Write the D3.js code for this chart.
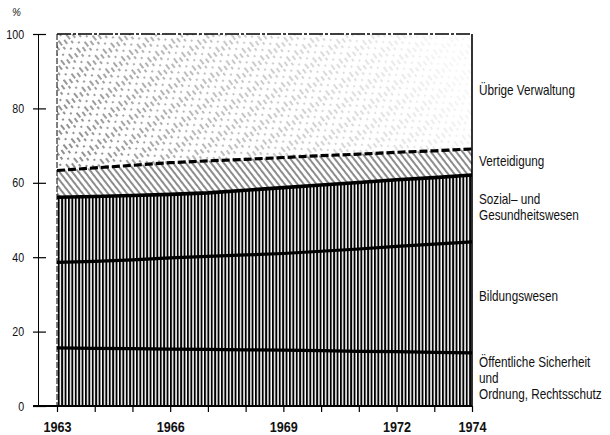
<!DOCTYPE html>
<html>
<head>
<meta charset="utf-8">
<script src="https://cdn.jsdelivr.net/npm/d3@7/dist/d3.min.js"></script>
<style>
  html, body { margin: 0; padding: 0; background: #fff; }
  svg { display: block; }
  text { font-family: "Liberation Sans", Arial, sans-serif; fill: #111; }
</style>
</head>
<body>
<svg id="chart" width="610" height="435"></svg>
<script>
// ---- data (shares in % of total expenditure) ----
const years = [1963,1964,1965,1966,1967,1968,1969,1970,1971,1972,1973,1974];
const oeffentlicheSicherheit = [15.6,15.5,15.4,15.3,15.2,15.1,15.0,14.9,14.7,14.6,14.4,14.3];
const bildungswesen          = [23.0,23.4,23.9,24.5,25.0,25.5,26.0,26.7,27.5,28.3,29.1,29.8];
const sozialGesundheit       = [17.5,17.4,17.3,17.1,17.1,17.4,17.7,17.8,17.9,17.9,17.9,18.0];
const verteidigung           = [7.2,7.7,8.1,8.5,8.6,8.3,8.1,7.9,7.6,7.4,7.2,7.0];
const uebrigeVerwaltung      = [36.7,36.0,35.3,34.6,34.1,33.7,33.2,32.7,32.3,31.8,31.4,30.9];
const seriesKeys = ["oeff","bild","sozial","vert","uebrig"];
const seriesLabels = {
  oeff: ["Öffentliche Sicherheit","und","Ordnung, Rechtsschutz"],
  bild: ["Bildungswesen"],
  sozial: ["Sozial– und","Gesundheitswesen"],
  vert: ["Verteidigung"],
  uebrig: ["Übrige Verwaltung"]
};
const yTicks = [0,20,40,60,80,100];
const xLabelYears = [1963,1966,1969,1972,1974];
const yUnit = "%";

// ---- build table ----
const table = years.map((yr,i) => ({
  year: yr,
  oeff: oeffentlicheSicherheit[i],
  bild: bildungswesen[i],
  sozial: sozialGesundheit[i],
  vert: verteidigung[i],
  uebrig: uebrigeVerwaltung[i]
}));
const stacked = d3.stack().keys(seriesKeys)(table);

const svg = d3.select("#chart");
const x = d3.scaleLinear().domain([1963,1974]).range([57,472]);
const y = d3.scaleLinear().domain([0,100]).range([406,34]);

// ---- patterns ----
const defs = svg.append("defs");
const pv = defs.append("pattern").attr("id","vhatch").attr("patternUnits","userSpaceOnUse")
  .attr("width",3.4).attr("height",10);
pv.append("rect").attr("width",3.4).attr("height",10).attr("fill","#fff");
pv.append("rect").attr("x",0).attr("y",0).attr("width",1.9).attr("height",10).attr("fill","#000");

const pd = defs.append("pattern").attr("id","dhatch").attr("patternUnits","userSpaceOnUse")
  .attr("width",5).attr("height",10).attr("patternTransform","rotate(-38)");
pd.append("rect").attr("width",5).attr("height",10).attr("fill","#fff");
pd.append("line").attr("x1",1).attr("x2",1).attr("y1",0).attr("y2",10)
  .attr("stroke","#000").attr("stroke-width",0.9);

const ps = defs.append("pattern").attr("id","shatch").attr("patternUnits","userSpaceOnUse")
  .attr("width",10).attr("height",17).attr("patternTransform","rotate(-38)");
ps.append("line").attr("x1",1).attr("x2",1).attr("y1",0).attr("y2",17)
  .attr("stroke","#000").attr("stroke-width",0.9).attr("stroke-dasharray","6 2 3 6");
ps.append("line").attr("x1",6).attr("x2",6).attr("y1",0).attr("y2",17)
  .attr("stroke","#000").attr("stroke-width",0.9).attr("stroke-dasharray","2 5 5 5").attr("stroke-dashoffset",4);

const grad = defs.append("linearGradient").attr("id","fade")
  .attr("gradientUnits","userSpaceOnUse")
  .attr("x1",80).attr("y1",200).attr("x2",440).attr("y2",40);
grad.append("stop").attr("offset","0").attr("stop-color","#fff").attr("stop-opacity",1);
grad.append("stop").attr("offset","0.35").attr("stop-color","#fff").attr("stop-opacity",0.6);
grad.append("stop").attr("offset","1").attr("stop-color","#fff").attr("stop-opacity",0.08);
const mask = defs.append("mask").attr("id","fademask").attr("maskUnits","userSpaceOnUse")
  .attr("x",0).attr("y",0).attr("width",610).attr("height",435);
mask.append("rect").attr("width",610).attr("height",435).attr("fill","url(#fade)");

const fills = { oeff:"url(#vhatch)", bild:"url(#vhatch)", sozial:"url(#vhatch)", vert:"url(#dhatch)", uebrig:"url(#shatch)" };

// ---- areas ----
const area = d3.area().x(d => x(d.data.year)).y0(d => y(d[0])).y1(d => y(d[1]));
svg.append("g").selectAll("path").data(stacked).join("path")
  .attr("d", area)
  .attr("fill", d => fills[d.key])
  .attr("mask", d => d.key === "uebrig" ? "url(#fademask)" : null);

// ---- boundary lines ----
const line = d3.line().x(d => x(d.data.year)).y(d => y(d[1]));
const lineStyle = {
  oeff: {w:3.2, dash:null},
  bild: {w:3.2, dash:null},
  sozial: {w:3.6, dash:null},
  vert: {w:3.2, dash:"8 3"},
  uebrig: {w:1.6, dash:"14 2 3 2"}
};
svg.append("g").selectAll("path").data(stacked).join("path")
  .attr("d", line)
  .attr("fill","none").attr("stroke","#000")
  .attr("stroke-width", d => lineStyle[d.key].w)
  .attr("stroke-dasharray", d => lineStyle[d.key].dash);

// frame edges
svg.append("line").attr("x1",x(1974)).attr("x2",x(1974)).attr("y1",y(100)).attr("y2",y(0))
  .attr("stroke","#000").attr("stroke-width",1.6);
svg.append("line").attr("x1",x(1963)).attr("x2",x(1963)).attr("y1",y(100)).attr("y2",y(0))
  .attr("stroke","#000").attr("stroke-width",1).attr("stroke-dasharray","6 2");

// ---- y axis ----
const yAxis = svg.append("g").attr("transform","translate(38,0)")
  .call(d3.axisLeft(y).tickValues(yTicks).tickSize(0).tickPadding(17).tickFormat(d3.format("d")));
yAxis.select(".domain").attr("stroke","#000").attr("stroke-width",1);
yAxis.selectAll(".tick line").attr("x1",-5).attr("x2",8).attr("stroke","#000").attr("stroke-width",1.2);
yAxis.selectAll(".tick text").attr("font-size",13).attr("fill","#111")
  .attr("transform","scale(0.82,1)")
  .style("font-family","'Liberation Sans',Arial,sans-serif");
svg.append("text").attr("x",12).attr("y",16).attr("font-size",10).attr("font-style","italic").text(yUnit);

// ---- x axis ----
const xAxis = svg.append("g").attr("transform",`translate(0,${y(0)})`)
  .call(d3.axisBottom(x).tickValues(years).tickSize(6).tickPadding(10)
    .tickFormat(d => xLabelYears.includes(d) ? String(d) : ""));
xAxis.select(".domain").attr("d", `M33,0H${x(1974)}`).attr("stroke","#000").attr("stroke-width",2);
xAxis.selectAll(".tick line").attr("stroke","#000").attr("stroke-width",1.2);
xAxis.selectAll(".tick text").attr("font-size",14).attr("font-weight","bold").attr("fill","#111")
  .attr("transform","scale(0.9,1)")
  .style("font-family","'Liberation Sans',Arial,sans-serif");

// ---- right labels ----
const last = stacked.map(s => ({key:s.key, mid:(s[s.length-1][0]+s[s.length-1][1])/2}));
const lg = svg.append("g");
last.forEach(l => {
  const lines = seriesLabels[l.key];
  const lh = 16;
  const cy = y(l.mid) + 4 - (lines.length-1)*lh/2;
  lines.forEach((t,i) => {
    lg.append("text").attr("transform",`translate(479,${cy + i*lh}) scale(0.84,1)`)
      .attr("font-size",14).text(t);
  });
});
</script>
</body>
</html>
